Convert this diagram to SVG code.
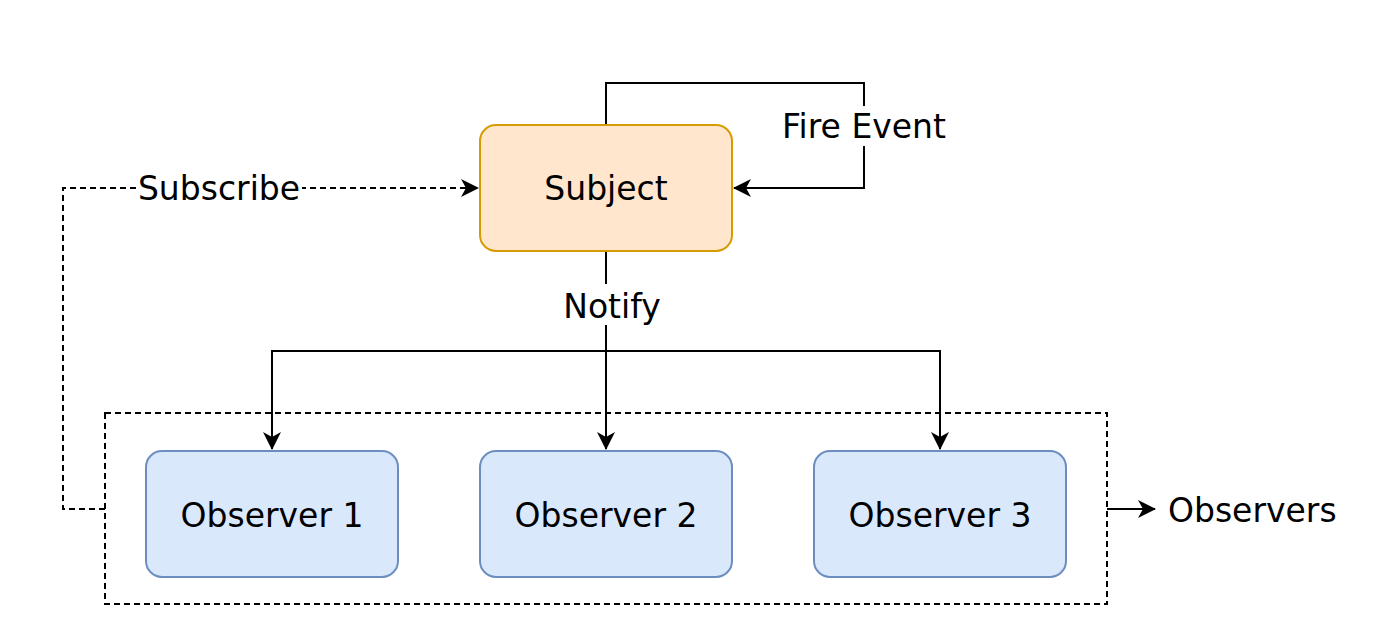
<svg xmlns="http://www.w3.org/2000/svg" width="1392" height="644" viewBox="0 0 1392 644">
<defs>
<style>
.t{font-family:"DejaVu Sans",Verdana,sans-serif;font-size:33px;fill:#000;text-anchor:middle}
.subj{fill:#ffe6cc;stroke:#d79b00;stroke-width:2}
.obs{fill:#dae8fc;stroke:#6c8ebf;stroke-width:2}
.ln{fill:none;stroke:#000;stroke-width:2}
.dash{stroke-dasharray:6 4}
</style>
<marker id="arr" viewBox="0 0 18 18" markerWidth="18" markerHeight="18" refX="17" refY="9" orient="auto" markerUnits="userSpaceOnUse">
<path d="M0,0 L18,9 L0,18 L5,9 Z" fill="#000"/>
</marker>
</defs>
<rect width="1392" height="644" fill="#fff"/>
<g id="container">
<rect x="105" y="413" width="1002" height="191" class="ln dash"/>
</g>
<g id="connectors">
<path d="M606,125 V83 H864 V188 H734" class="ln" marker-end="url(#arr)"/>
<rect x="778" y="106" width="172" height="40" fill="#fff"/>
<text x="864" y="138" class="t">Fire Event</text>
<path d="M105,509 H63 V188 H478" class="ln dash" marker-end="url(#arr)"/>
<rect x="136" y="172" width="166" height="34" fill="#fff"/>
<text x="219" y="200" class="t">Subscribe</text>
<path d="M606,251 V449" class="ln" marker-end="url(#arr)"/>
<path d="M606,351 H272 V449" class="ln" marker-end="url(#arr)"/>
<path d="M606,351 H940 V449" class="ln" marker-end="url(#arr)"/>
<rect x="560" y="284" width="104" height="41" fill="#fff"/>
<text x="612" y="318" class="t">Notify</text>
<path d="M1107,509 H1155" class="ln" marker-end="url(#arr)"/>
</g>
<g id="subject">
<rect x="480" y="125" width="252" height="126" rx="16" class="subj"/>
<text x="606" y="200" class="t">Subject</text>
</g>
<g id="observer1">
<rect x="146" y="451" width="252" height="126" rx="16" class="obs"/>
<text x="272" y="527" class="t">Observer 1</text>
</g>
<g id="observer2">
<rect x="480" y="451" width="252" height="126" rx="16" class="obs"/>
<text x="606" y="527" class="t">Observer 2</text>
</g>
<g id="observer3">
<rect x="814" y="451" width="252" height="126" rx="16" class="obs"/>
<text x="940" y="527" class="t">Observer 3</text>
</g>
<g id="observers-label">
<text x="1168" y="522" class="t" style="text-anchor:start">Observers</text>
</g>
</svg>
